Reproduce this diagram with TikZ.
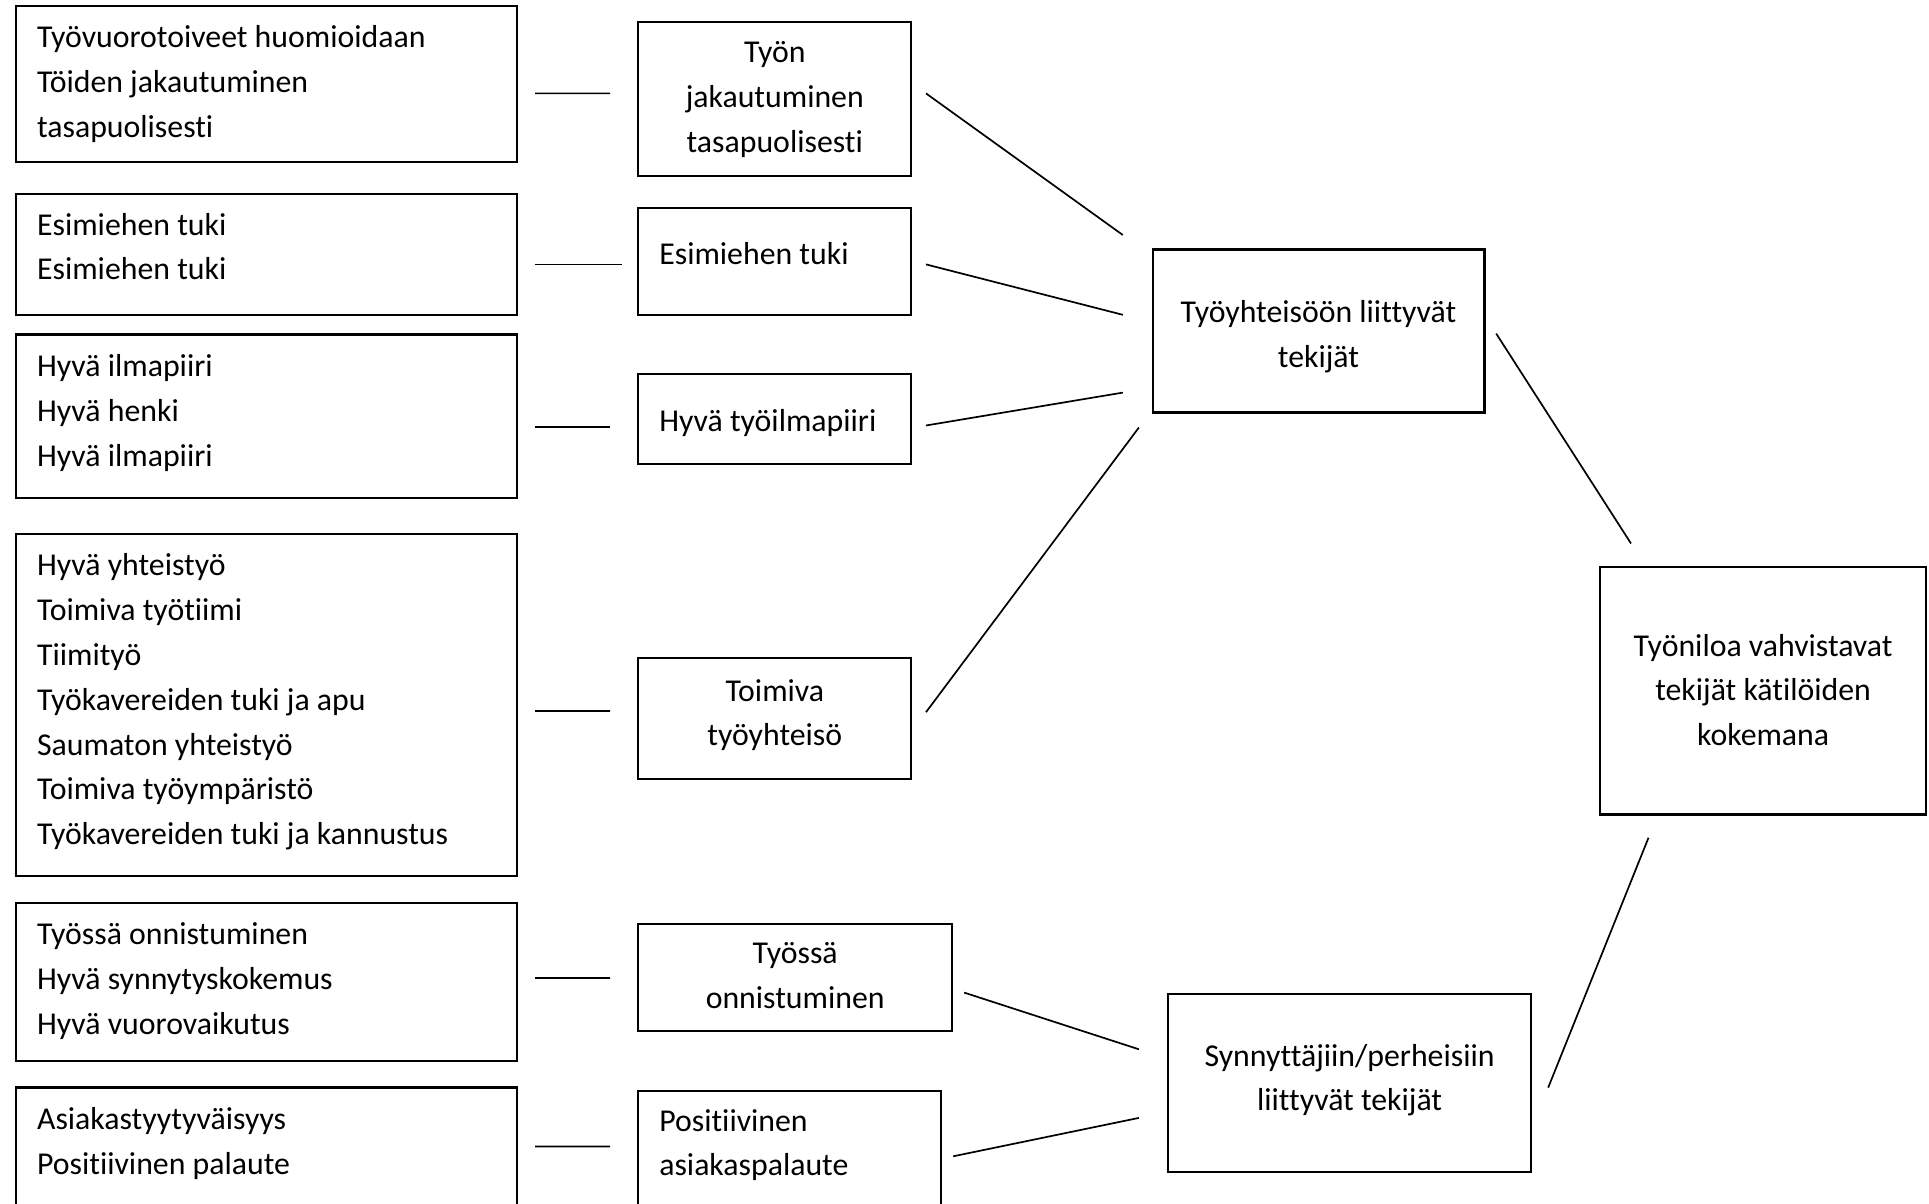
\documentclass[tikz,border=0pt]{standalone}
\usepackage{fontspec}
\setmainfont[Ligatures=NoCommon]{Carlito}
\usetikzlibrary{calc}

% one unit = one pixel of the layout grid
\newlength\unitpx
\setlength\unitpx{0.5pt}
% #1 text width, #2 box height, #3 first baseline below the top, #4 alignment, #5 text
\newcommand\boxtext[5]{\parbox[t][#2\unitpx][t]{#1\unitpx}{#4\rule{0pt}{#3\unitpx}#5}}

\tikzset{
  basebox/.style={draw, line width=1.1pt, inner ysep=0pt, anchor=north west,
    font=\fontsize{15.9}{22.4}\selectfont},
  lbox/.style={basebox, inner xsep=10.5pt},
  cbox/.style={basebox, inner xsep=0pt},
  conn/.style={line width=0.85pt},
}

\begin{document}
\begin{tikzpicture}[x=0.5pt, y=-0.5pt]
\useasboundingbox (0,0) rectangle (1929,1204);
\fill[white] (0,0) rectangle (1929,1204);
\clip (0,0) rectangle (1929,1204);

% left column: raw expressions
\node[lbox] (b1) at (15,4.8) {\boxtext{458.5}{156.4}{42}{\raggedright}{Työvuorotoiveet huomioidaan\\Töiden jakautuminen\\tasapuolisesti}};
\node[lbox] (b2) at (15,193.1) {\boxtext{458.5}{120.6}{41}{\raggedright}{Esimiehen tuki\\Esimiehen tuki}};
\node[lbox] (b3) at (15,333.4) {\boxtext{458.5}{163.6}{42}{\raggedright}{Hyvä ilmapiiri\\Hyvä henki\\Hyvä ilmapiiri}};
\node[lbox] (b4) at (15,532.7) {\boxtext{458.5}{342}{42}{\raggedright}{Hyvä yhteistyö\\Toimiva työtiimi\\Tiimityö\\Työkavereiden tuki ja apu\\Saumaton yhteistyö\\Toimiva työympäristö\\Työkavereiden tuki ja kannustus}};
\node[lbox] (b5) at (15,901.7) {\boxtext{458.5}{157.8}{42}{\raggedright}{Työssä onnistuminen\\Hyvä synnytyskokemus\\Hyvä vuorovaikutus}};
\node[lbox] (b6) at (15,1086.3) {\boxtext{458.5}{214}{42}{\raggedright}{Asiakastyytyväisyys\\Positiivinen palaute}};

% middle column: sub-categories
\node[cbox] (m1) at (637.2,20.8) {\boxtext{273}{154}{41}{\centering}{Työn\\jakautuminen\\tasapuolisesti}};
\node[lbox] (m2) at (637.2,206.7) {\boxtext{231}{107}{56.6}{\raggedright}{Esimiehen tuki}};
\node[lbox] (m3) at (637.2,372.8) {\boxtext{231}{89.8}{58}{\raggedright}{Hyvä työilmapiiri}};
\node[cbox] (m4) at (637.2,657) {\boxtext{273}{120.5}{43}{\centering}{Toimiva\\työyhteisö}};
\node[cbox] (m5) at (637.2,922.7) {\boxtext{313.8}{107.3}{40}{\centering}{Työssä\\onnistuminen}};
\node[lbox] (m6) at (637.2,1090) {\boxtext{260.8}{210}{40}{\raggedright}{Positiivinen\\asiakaspalaute}};

% main categories
\node[cbox] (t1) at (1151.5,248.4) {\boxtext{331.8}{162.9}{73.3}{\centering}{Työyhteisöön liittyvät\\tekijät}};
\node[cbox] (t2) at (1167,992.5) {\boxtext{363}{178}{72.5}{\centering}{Synnyttäjiin/perheisiin\\liittyvät tekijät}};

% combining category
\node[cbox] (f) at (1599,565.8) {\boxtext{326}{247.5}{89.2}{\centering}{Työniloa vahvistavat\\tekijät kätilöiden\\kokemana}};

% short links from expressions to sub-categories
\draw[conn] ($(b1.east)+(17.5,9.3)$) -- ($(m1.west)+(-27.2,-5.5)$);
\draw[conn] ($(b2.east)+(17.5,9.9)$) -- ($(m2.west)+(-15.7,3.1)$);
\draw[conn] ($(b3.east)+(17.5,10.5)$) -- ($(m3.west)+(-27.2,8)$);
\draw[conn] ($(b4.east)+(17.5,6.1)$) -- ($(m4.west)+(-27.2,-7.45)$);
\draw[conn] ($(b5.east)+(17.5,-3.8)$) -- ($(m5.west)+(-27.2,0.45)$);
\draw[conn] ($(b6.east)+(17.5,-47.85)$) -- ($(m6.west)+(-27.2,-49.7)$);

% sub-categories to main categories
\draw[conn] ($(m1.east)+(13.6,-5.5)$) -- ($(t1.north west)+(-28.7,-13.4)$);
\draw[conn] ($(m2.east)+(13.6,3.1)$) -- ($(t1.west)+(-28.7,-16.15)$);
\draw[conn] ($(m3.east)+(13.6,6.7)$) -- ($(t1.west)+(-28.7,61.65)$);
\draw[conn] ($(m4.east)+(13.6,-6.15)$) -- ($(t1.south west)+(-12.6,14)$);
\draw[conn] ($(m5.east)+(11,15.15)$) -- ($(t2.west)+(-28.1,-33.3)$);
\draw[conn] ($(m6.east)+(11,-39.8)$) -- ($(t2.west)+(-28.1,35.3)$);

% main categories to the combining category
\draw[conn] ($(t1.east)+(10.7,2.65)$) -- ($(f.north west)+(32,-22.3)$);
\draw[conn] ($(t2.east)+(16,5)$) -- ($(f.south west)+(49.5,22.2)$);
\end{tikzpicture}
\end{document}
